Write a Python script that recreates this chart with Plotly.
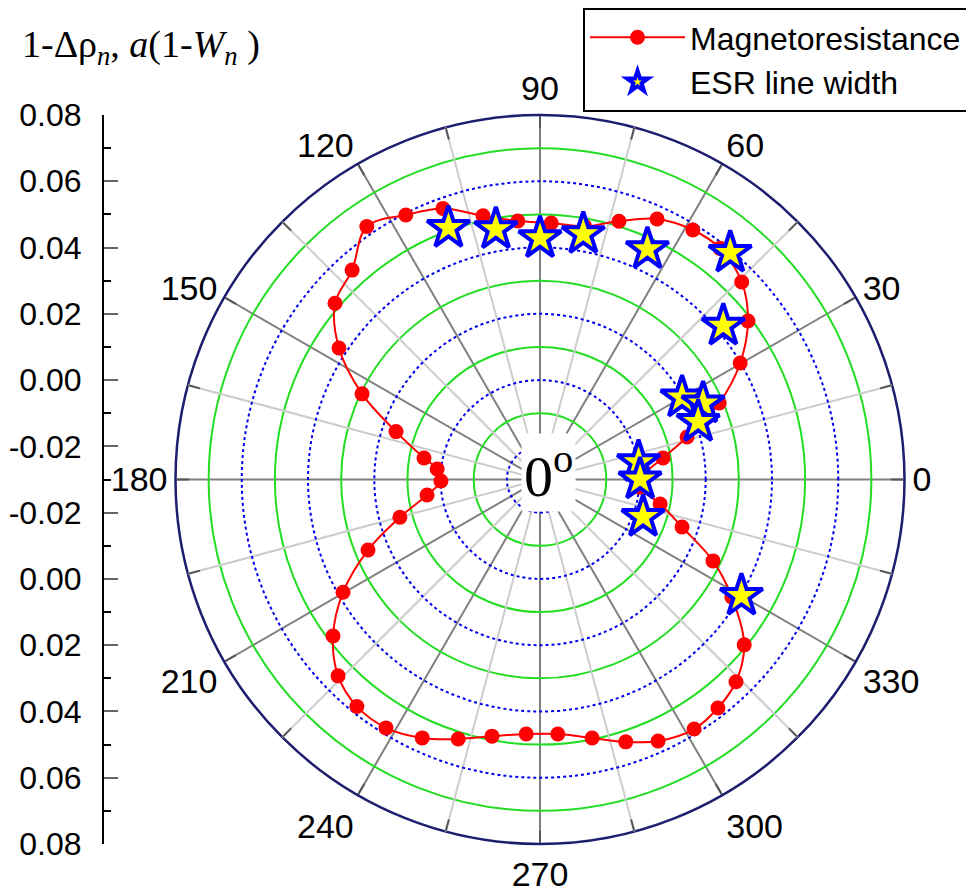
import plotly.graph_objects as go

# Magnetoresistance (angle in degrees, value)
mr_theta = [2.7, 9.9, 16.1, 23.1, 30.2, 37.3, 44.4, 52.1, 58.5, 65.8, 73.0, 80.0,
            87.5, 94.9, 102.2, 109.7, 116.9, 124.4, 131.9, 139.3, 146.8, 154.3,
            161.6, 169.5, 174.2, 180.9, 187.8, 195.1, 202.3, 209.8, 217.1, 224.2,
            231.1, 238.2, 245.5, 252.5, 259.4, 266.9, 274.0, 281.4, 288.1, 294.3,
            301.7, 307.9, 314.1, 321.0, 328.5, 334.8, 341.5, 348.5, 355.6]
mr_r = [0.0014, 0.0077, 0.0162, 0.0288, 0.0399, 0.0489, 0.0552, 0.0584, 0.0583,
        0.0562, 0.0515, 0.0476, 0.0475, 0.0483, 0.0514, 0.0569, 0.0595, 0.0625,
        0.0549, 0.0516, 0.0425, 0.0296, 0.0158, 0.0056, 0.0012, -0.0001, 0.0044,
        0.0138, 0.0261, 0.0385, 0.0483, 0.0550, 0.0580, 0.0582, 0.0557, 0.0521,
        0.0488, 0.0469, 0.0470, 0.0496, 0.0533, 0.0566, 0.0585, 0.0574, 0.0550,
        0.0493, 0.0379, 0.0277, 0.0152, 0.0070, 0.0002]

# ESR line width
esr_theta = [110, 100, 90, 80, 65, 50, 40, 30, 25, 20, 10, 0, 340, 330]
esr_r = [0.0508, 0.0467, 0.0428, 0.0452, 0.0467, 0.0593, 0.0422, 0.0195,
         0.0243, 0.0208, 0.0002, 0.0002, 0.0031, 0.0402]

r_min, r_max = -0.03, 0.08
green_rings = [-0.01, 0.01, 0.03, 0.05, 0.07]
blue_rings = [-0.02, 0.00, 0.02, 0.04, 0.06]
major_angles = list(range(0, 360, 30))
minor_angles = list(range(15, 360, 30))
radial_labels = [-0.02, 0.00, 0.02, 0.04, 0.06, 0.08]

SANS = "Liberation Sans, Arial, sans-serif"
SERIF = "Liberation Serif, Times New Roman, serif"

W, H = 974, 894
OFF = 8  # page body margin compensation
cx, cy, R = 540 - OFF, 479.5 - OFF, 364.5
dom_x = [(cx - R) / W, (cx + R) / W]
dom_y = [(H - cy - R) / H, (H - cy + R) / H]

fig = go.Figure()

# empty trace so the base polar (green rings, spokes, labels) gets drawn
fig.add_trace(go.Scatterpolar(r=[None], theta=[None], subplot="polar",
                              showlegend=False, hoverinfo="skip"))

th = mr_theta + [mr_theta[0]]
rr = mr_r + [mr_r[0]]
fig.add_trace(go.Scatterpolar(
    r=rr, theta=th, mode="lines+markers", name="Magnetoresistance",
    line=dict(color="#ff0000", width=2, shape="spline"),
    marker=dict(color="#ff0000", size=15, symbol="circle"),
    subplot="polar2"))
fig.add_trace(go.Scatterpolar(
    r=esr_r, theta=esr_theta, mode="markers", name="ESR line width",
    marker=dict(color="#ffff00", size=32, symbol="star",
                line=dict(color="#0000ff", width=4)),
    subplot="polar2"))

# dummy trace to activate the cartesian axis on the left
fig.add_trace(go.Scatter(x=[None], y=[None], showlegend=False, hoverinfo="skip",
                         xaxis="x", yaxis="y"))

span = r_max - r_min
offs_major = []
txt_major = []
for v in radial_labels:
    offs_major.append(round(v - r_min, 4))
    txt_major.append(f"{v:.2f}")
    offs_major.append(round(-(v - r_min), 4))
    txt_major.append(f"{v:.2f}")
offs_minor = [0.0]
for v in green_rings:
    offs_minor.append(round(v - r_min, 4))
    offs_minor.append(round(-(v - r_min), 4))

fig.update_layout(
    width=W, height=H,
    margin=dict(l=0, r=0, t=0, b=0, autoexpand=False),
    paper_bgcolor="white", plot_bgcolor="rgba(0,0,0,0)",
    showlegend=True,
    legend=dict(x=(968 - OFF) / W, y=1.0, xanchor="right", yanchor="top",
                bordercolor="black", borderwidth=2, bgcolor="white",
                font=dict(family=SANS, size=32, color="black"),
                itemwidth=95, tracegroupgap=0),
    polar=dict(
        domain=dict(x=dom_x, y=dom_y),
        bgcolor="white",
        radialaxis=dict(range=[r_min, r_max], tickvals=green_rings,
                        showticklabels=False, ticks="", showline=False,
                        gridcolor="#22dd22", gridwidth=1.5),
        angularaxis=dict(tickvals=major_angles,
                         ticktext=[str(a) for a in major_angles],
                         direction="counterclockwise", rotation=0,
                         gridcolor="#808080", gridwidth=1.5,
                         ticks="inside", ticklen=12, tickwidth=1.5,
                         tickcolor="#555555",
                         linecolor="#1e1e6e", linewidth=2.5, showline=True,
                         tickfont=dict(family=SANS, size=34, color="black")),
    ),
    polar2=dict(
        domain=dict(x=dom_x, y=dom_y),
        bgcolor="rgba(0,0,0,0)",
        radialaxis=dict(range=[r_min, r_max], tickvals=blue_rings,
                        showticklabels=False, ticks="", showline=False,
                        gridcolor="#0000ee", gridwidth=1.5, griddash="dot"),
        angularaxis=dict(tickvals=minor_angles, showticklabels=False,
                         direction="counterclockwise", rotation=0,
                         gridcolor="#cccccc", gridwidth=1.5,
                         ticks="inside", ticklen=12, tickwidth=1.5,
                         tickcolor="#555555", showline=False),
    ),
    xaxis=dict(domain=[0, 0.05], visible=False, range=[0, 1]),
    yaxis=dict(domain=dom_y, range=[-span, span], anchor="free",
               position=(103 - OFF) / W, side="left",
               showline=True, linecolor="black", linewidth=2,
               showgrid=False, zeroline=False,
               tickvals=offs_major, ticktext=txt_major,
               ticks="inside", ticklen=14, tickwidth=2, tickcolor="#666666",
               ticklabelstandoff=14,
               tickfont=dict(family=SANS, size=32, color="black")
               ,
               minor=dict(tickvals=offs_minor, ticks="inside", ticklen=7,
                          tickwidth=2, tickcolor="black", showgrid=False)),
    annotations=[
        dict(text="0<sup>o</sup>", x=(cx + 8) / W, y=(H - cy + 7) / H,
             xref="paper", yref="paper", showarrow=False,
             xanchor="center", yanchor="middle",
             font=dict(family=SERIF, size=58, color="black"),
             bgcolor="white", borderpad=2),
        dict(text="1-Δρ<sub><i>n</i></sub>, <i>a</i>(1-<i>W</i><sub><i>n</i></sub> )",
             x=(20 - OFF) / W, y=1 - (21 - OFF) / H, xref="paper", yref="paper",
             showarrow=False, xanchor="left", yanchor="top",
             font=dict(family=SERIF, size=38, color="black")),
    ],
)

fig.write_html("out.html")
